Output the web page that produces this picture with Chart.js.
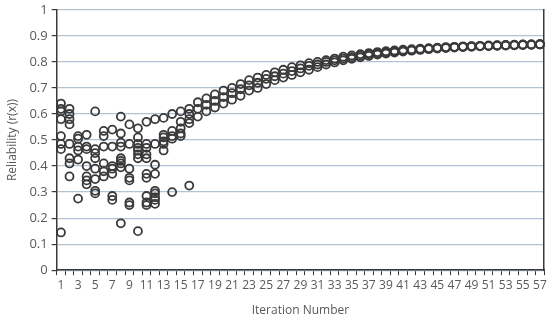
<!DOCTYPE html>
<html>
<head>
<meta charset="utf-8">
<script src="https://cdn.jsdelivr.net/npm/chart.js@4/dist/chart.umd.min.js"></script>
<style>
  html, body { margin: 0; padding: 0; background: #fff; }
  #wrap { width: 550px; height: 321px; }
</style>
</head>
<body>
<div id="wrap"><canvas id="chart"></canvas></div>
<script>
// iteration numbers 1..57
const iterations = [];
for (let i = 1; i <= 57; i++) iterations.push(String(i));

// reliability values per run, highest first at each iteration
const run1 = [0.64, 0.62, 0.515, 0.52, 0.61, 0.535, 0.54, 0.59, 0.56, 0.545, 0.57, 0.58, 0.585, 0.60, 0.61, 0.62,
  0.645, 0.66, 0.675, 0.69, 0.70, 0.715, 0.73, 0.74, 0.75, 0.76, 0.77, 0.78, 0.787, 0.795, 0.80, 0.807, 0.813, 0.82,
  0.825, 0.83, 0.834, 0.838, 0.841, 0.844, 0.847, 0.849, 0.851, 0.853, 0.855, 0.857, 0.858, 0.86, 0.861, 0.862,
  0.863, 0.864, 0.865, 0.866, 0.867, 0.867, 0.868];
const run2 = [0.62, 0.60, 0.505, 0.475, 0.465, 0.515, 0.475, 0.525, 0.485, 0.51, 0.485, 0.485, 0.52, 0.535, 0.57, 0.60,
  0.62, 0.635, 0.65, 0.665, 0.68, 0.695, 0.71, 0.72, 0.735, 0.745, 0.755, 0.765, 0.775, 0.785, 0.79, 0.80, 0.806, 0.813,
  0.818, 0.824, 0.829, 0.833, 0.837, 0.84, 0.843, 0.846, 0.849, 0.851, 0.853, 0.855, 0.857, 0.858, 0.86, 0.861,
  0.862, 0.863, 0.864, 0.865, 0.866, 0.867, 0.868];
const run3 = [0.61, 0.58, 0.475, 0.465, 0.45, 0.475, 0.40, 0.49, 0.39, 0.485, 0.47, 0.405, 0.51, 0.515, 0.545, 0.58,
  0.59, 0.61, 0.625, 0.64, 0.655, 0.67, 0.69, 0.70, 0.715, 0.73, 0.74, 0.75, 0.76, 0.77, 0.78, 0.79, 0.798, 0.806,
  0.812, 0.818, 0.823, 0.828, 0.832, 0.836, 0.84, 0.843, 0.846, 0.849, 0.851, 0.853, 0.855, 0.857, 0.858, 0.86,
  0.861, 0.862, 0.863, 0.864, 0.865, 0.866, 0.867];
const run4 = [0.58, 0.56, 0.46, 0.40, 0.43, 0.41, 0.39, 0.475, 0.355, 0.47, 0.445, 0.37, 0.495, 0.505, 0.525, 0.565];
const run5 = [0.515, 0.485, 0.425, 0.36, 0.39, 0.38, 0.37, 0.43, 0.345, 0.46, 0.43, 0.305, 0.485, 0.30, 0.515, 0.325];
const run6 = [0.485, 0.43, 0.275, 0.345, 0.35, 0.36, 0.285, 0.42, 0.26, 0.445, 0.37, 0.295, 0.46];
const run7 = [0.465, 0.41, null, 0.33, 0.305, null, 0.27, 0.41, 0.25, 0.43, 0.355, 0.28];
const run8 = [0.145, 0.36, null, null, 0.295, null, null, 0.395, null, 0.15, 0.285, 0.27];
const run9 = [null, null, null, null, null, null, null, 0.18, null, null, 0.26, 0.255];
const run10 = [null, null, null, null, null, null, null, null, null, null, 0.25];

const runs = [run1, run2, run3, run4, run5, run6, run7, run8, run9, run10];

const ink = '#3a3a3a';
const labelColor = '#595959';
const fontFamily = '"Open Sans", "Liberation Sans", sans-serif';

const ctx = document.getElementById('chart').getContext('2d');
new Chart(ctx, {
  type: 'line',
  data: {
    labels: iterations,
    datasets: runs.map((r, i) => ({
      label: 'Run ' + (i + 1),
      data: r,
      showLine: false,
      pointStyle: 'circle',
      pointRadius: 4,
      pointBorderWidth: 1.8,
      pointBorderColor: ink,
      pointBackgroundColor: 'rgba(0,0,0,0)'
    }))
  },
  options: {
    responsive: true,
    maintainAspectRatio: false,
    animation: false,
    layout: { padding: { top: 0, right: 5, left: 5, bottom: 3 } },
    plugins: {
      legend: { display: false },
      tooltip: { enabled: false }
    },
    scales: {
      x: {
        offset: true,
        grid: {
          offset: true,
          drawOnChartArea: false,
          tickLength: 5,
          tickColor: ink
        },
        border: { color: ink, width: 1.5 },
        ticks: {
          autoSkip: false,
          maxRotation: 0,
          color: labelColor,
          font: { family: fontFamily, size: 12 },
          padding: 3,
          callback: function (v, i) { return i % 2 === 0 ? this.getLabelForValue(v) : ''; }
        },
        title: {
          display: true,
          text: 'Iteration Number',
          color: labelColor,
          font: { family: fontFamily, size: 12 },
          padding: { top: 8, bottom: 0 }
        }
      },
      y: {
        min: 0,
        max: 1,
        ticks: {
          stepSize: 0.1,
          color: labelColor,
          font: { family: fontFamily, size: 13, lineHeight: 0.9 },
          padding: 4,
          callback: (v) => String(Number(v.toFixed(1)))
        },
        grid: {
          color: '#b4c2d6',
          lineWidth: 1.2,
          tickLength: 5,
          tickColor: ink
        },
        border: { color: ink, width: 1.5 },
        title: {
          display: true,
          text: 'Reliability (r(x))',
          color: labelColor,
          font: { family: fontFamily, size: 12 },
          padding: { top: 0, bottom: 6 }
        }
      },
      yRight: {
        position: 'right',
        min: 0,
        max: 1,
        ticks: { display: false },
        grid: { display: false, drawTicks: false },
        border: { color: ink, width: 1.5 }
      }
    }
  }
});
</script>
</body>
</html>
